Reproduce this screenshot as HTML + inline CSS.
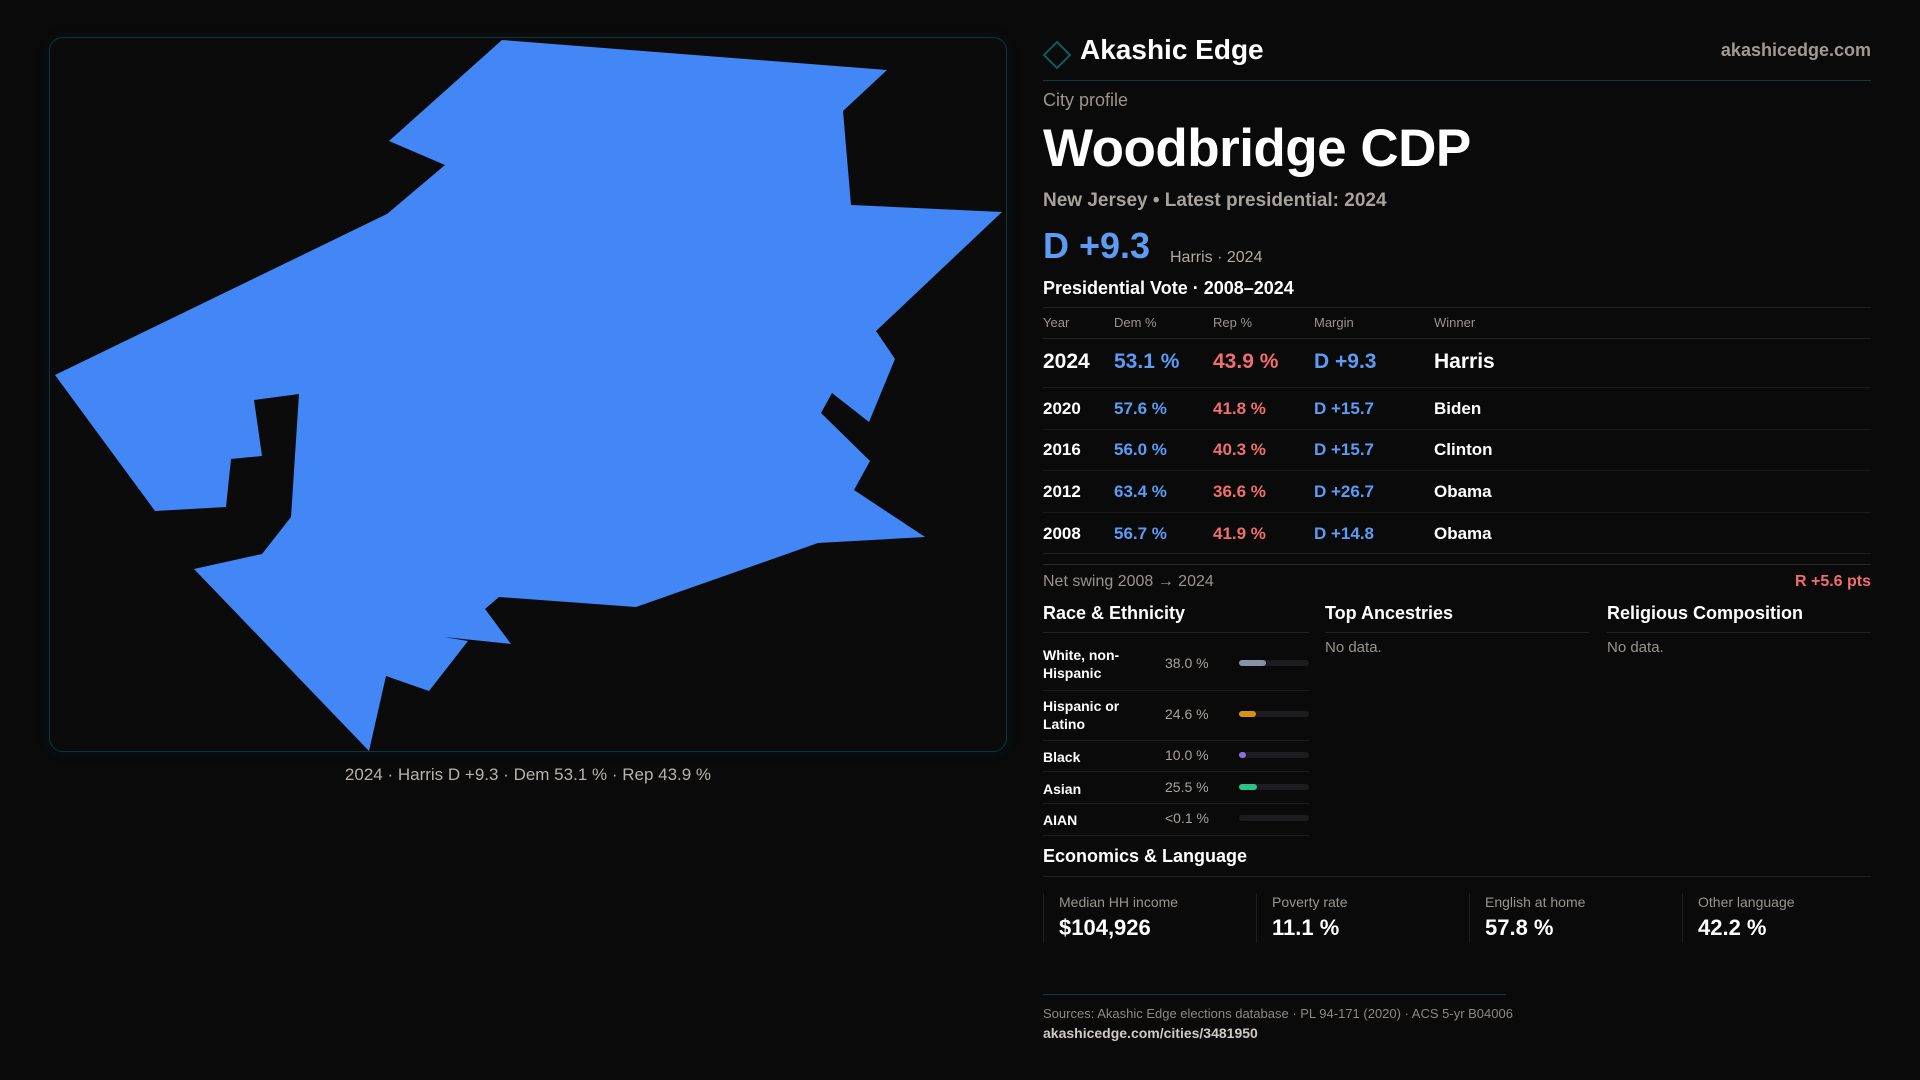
<!DOCTYPE html>
<html><head><meta charset="utf-8"><style>
*{margin:0;padding:0;box-sizing:border-box}
body{width:1920px;height:1080px;background:#0a0a0b;font-family:"Liberation Sans",sans-serif;color:#fff;position:relative;overflow:hidden}
.a{position:absolute;line-height:1;white-space:nowrap}
.g{color:#9a948e}
.blue{color:#5b9cf5}.red{color:#f26d6d}
.hl{position:absolute;height:1px;background:#222}
</style></head><body>
<div style="position:absolute;left:49px;top:37px;width:958px;height:715px;border:1px solid #123438;border-radius:14px;background:#0b0b0c;box-shadow:0 0 12px rgba(20,80,90,0.15)">
<svg id="map" width="958" height="715" style="position:absolute;left:-1px;top:-1px"></svg>
</div>
<div class="a" style="left:49px;width:958px;text-align:center;top:766px;font-size:17px;color:#b8b2ac">2024 · Harris D +9.3 · Dem 53.1 % · Rep 43.9 %</div>

<svg width="30" height="30" style="position:absolute;left:1042px;top:40px"><polygon points="15,2 28,15 15,28 2,15" fill="none" stroke="#0e5a5e" stroke-width="2"/></svg>
<div class="a" style="left:1080px;top:36px;font-size:28px;font-weight:bold">Akashic Edge</div>
<div class="a g" style="right:49px;top:41px;font-size:18px;font-weight:bold;color:#a09a94">akashicedge.com</div>
<div class="hl" style="left:1043px;width:828px;top:80px;background:#12393c"></div>
<div class="a g" style="left:1043px;top:91px;font-size:18px">City profile</div>
<div class="a" style="left:1043px;top:122px;font-size:53px;font-weight:bold;letter-spacing:-0.5px">Woodbridge CDP</div>
<div class="a" style="left:1043px;top:191px;font-size:19px;font-weight:bold;color:#a8a29c">New Jersey • Latest presidential: 2024</div>
<div class="a blue" style="left:1043px;top:228px;font-size:36px;font-weight:bold">D +9.3</div>
<div class="a" style="left:1170px;top:250px;font-size:16px;color:#b0aaa4">Harris · 2024</div>
<div class="a" style="left:1043px;top:279px;font-size:18px;font-weight:bold">Presidential Vote · 2008–2024</div>
<div class="hl" style="left:1043px;width:828px;top:307px"></div>
<div id="tbl"></div>
<div class="a g" style="left:1043px;top:574px;font-size:16px">Net swing 2008 → 2024</div>
<div class="a red" style="right:49px;top:574px;font-size:16px;font-weight:bold">R +5.6 pts</div>

<div class="a" style="left:1043px;top:604px;font-size:18px;font-weight:bold">Race &amp; Ethnicity</div>
<div class="hl" style="left:1043px;width:266px;top:632px"></div>
<div class="a" style="left:1325px;top:604px;font-size:18px;font-weight:bold">Top Ancestries</div>
<div class="hl" style="left:1325px;width:264px;top:632px"></div>
<div class="a g" style="left:1325px;top:640px;font-size:15px">No data.</div>
<div class="a" style="left:1607px;top:604px;font-size:18px;font-weight:bold">Religious Composition</div>
<div class="hl" style="left:1607px;width:264px;top:632px"></div>
<div class="a g" style="left:1607px;top:640px;font-size:15px">No data.</div>
<div id="race"></div>

<div class="a" style="left:1043px;top:847px;font-size:18px;font-weight:bold">Economics &amp; Language</div>
<div class="hl" style="left:1043px;width:828px;top:876px"></div>
<div id="stats"></div>
<div class="hl" style="left:1043px;width:463px;top:994px;background:#12393c"></div>
<div class="a g" style="left:1043px;top:1007px;font-size:13px;color:#8e8882">Sources: Akashic Edge elections database · PL 94-171 (2020) · ACS 5-yr B04006</div>
<div class="a" style="left:1043px;top:1026px;font-size:14px;font-weight:bold;color:#cfcac4">akashicedge.com/cities/3481950</div>

<script>
// boundary vertices in map projection units
const boundaryX=[502,887,843,851,1002,876,895,869,832,821,870,854,925,818,636,499,485,511,444,468,429,386,369,194,262,291,299,254,262,231,226,155,55,387,445,389];
const boundaryY=[40,70,111,205,212,331,359,422,393,413,461,490,537,543,607,597,609,644,637,641,691,676,751,569,554,517,394,400,456,459,507,511,375,214,165,141];
const years=['2024','2020','2016','2012','2008'];
const demPct=[53.1,57.6,56.0,63.4,56.7];
const repPct=[43.9,41.8,40.3,36.6,41.9];
const margins=['D +9.3','D +15.7','D +15.7','D +26.7','D +14.8'];
const winners=['Harris','Biden','Clinton','Obama','Obama'];
const raceLabels=['White, non-<br>Hispanic','Hispanic or<br>Latino','Black','Asian','AIAN'];
const raceValues=[38.0,24.6,10.0,25.5,0.05];
const raceColors=['#8892a6','#d9920f','#8b6fdc','#2fc08c','#555'];
const statLabels=['Median HH income','Poverty rate','English at home','Other language'];
const statValues=['$104,926','11.1 %','57.8 %','42.2 %'];

const svg=document.getElementById('map');
const px=v=>v-49, py=v=>v-37;
const pts=boundaryX.map((x,i)=>px(x)+','+py(boundaryY[i])).join(' ');
const poly=document.createElementNS('http://www.w3.org/2000/svg','polygon');
poly.setAttribute('points',pts);poly.setAttribute('fill','#4287f5');


svg.appendChild(poly);

function add(parent,html){parent.insertAdjacentHTML('beforeend',html);}
const tbl=document.getElementById('tbl');
const cols=[1043,1114,1213,1314,1434];
const hdr=['Year','Dem %','Rep %','Margin','Winner'];
hdr.forEach((h,i)=>add(tbl,`<div class="a g" style="left:${cols[i]}px;top:316px;font-size:13px">${h}</div>`));
add(tbl,`<div class="hl" style="left:1043px;width:828px;top:338px"></div>`);
const rowY=[361,408,449,491,533];
const lineY=[387,429,470,512,553];
years.forEach((y,i)=>{
  const fs=i===0?21:17;const t=rowY[i]-fs/2;
  add(tbl,`<div class="a" style="left:${cols[0]}px;top:${t}px;font-size:${fs}px;font-weight:bold">${y}</div>`);
  add(tbl,`<div class="a blue" style="left:${cols[1]}px;top:${t}px;font-size:${fs}px;font-weight:bold">${demPct[i].toFixed(1)} %</div>`);
  add(tbl,`<div class="a red" style="left:${cols[2]}px;top:${t}px;font-size:${fs}px;font-weight:bold">${repPct[i].toFixed(1)} %</div>`);
  add(tbl,`<div class="a blue" style="left:${cols[3]}px;top:${t}px;font-size:${fs}px;font-weight:bold">${margins[i]}</div>`);
  add(tbl,`<div class="a" style="left:${cols[4]}px;top:${t}px;font-size:${fs}px;font-weight:bold">${winners[i]}</div>`);
  add(tbl,`<div class="hl" style="left:1043px;width:828px;top:${lineY[i]}px;${i===4?'':'background:#1a1a1a'}"></div>`);
});
add(tbl,`<div class="hl" style="left:1043px;width:828px;top:564px;background:#2a2a2a"></div>`);

const race=document.getElementById('race');
const rY=[663,714,755,787,818];const rL=[690,740,771,803,835];
raceLabels.forEach((l,i)=>{
  const two=l.includes('<br>');
  add(race,`<div class="a" style="left:1043px;top:${rY[i]-(two?17:7)}px;font-size:14px;font-weight:bold;line-height:18px;white-space:normal">${l}</div>`);
  const v=raceValues[i];const vt=v<0.1?'&lt;0.1 %':v.toFixed(1)+' %';
  add(race,`<div class="a g" style="left:1165px;top:${rY[i]-7}px;font-size:14px;color:#a8a29c">${vt}</div>`);
  const w=Math.max(70*v/100,5);
  add(race,`<div style="position:absolute;left:1239px;top:${rY[i]-3}px;width:70px;height:6px;border-radius:3px;background:#1c1c1e"><div style="width:${v<0.1?0:w}px;height:6px;border-radius:3px;background:${raceColors[i]}"></div></div>`);
  add(race,`<div class="hl" style="left:1043px;width:266px;top:${rL[i]}px;background:#1c1c1c"></div>`);
});

const stats=document.getElementById('stats');
const sX=[1043,1256,1469,1682];
statLabels.forEach((l,i)=>{
  add(stats,`<div style="position:absolute;left:${sX[i]}px;top:893px;width:1px;height:50px;background:#1e1e1e"></div>`);
  add(stats,`<div class="a g" style="left:${sX[i]+16}px;top:895px;font-size:14px">${l}</div>`);
  add(stats,`<div class="a" style="left:${sX[i]+16}px;top:917px;font-size:22px;font-weight:bold">${statValues[i]}</div>`);
});
</script>
</body></html>
